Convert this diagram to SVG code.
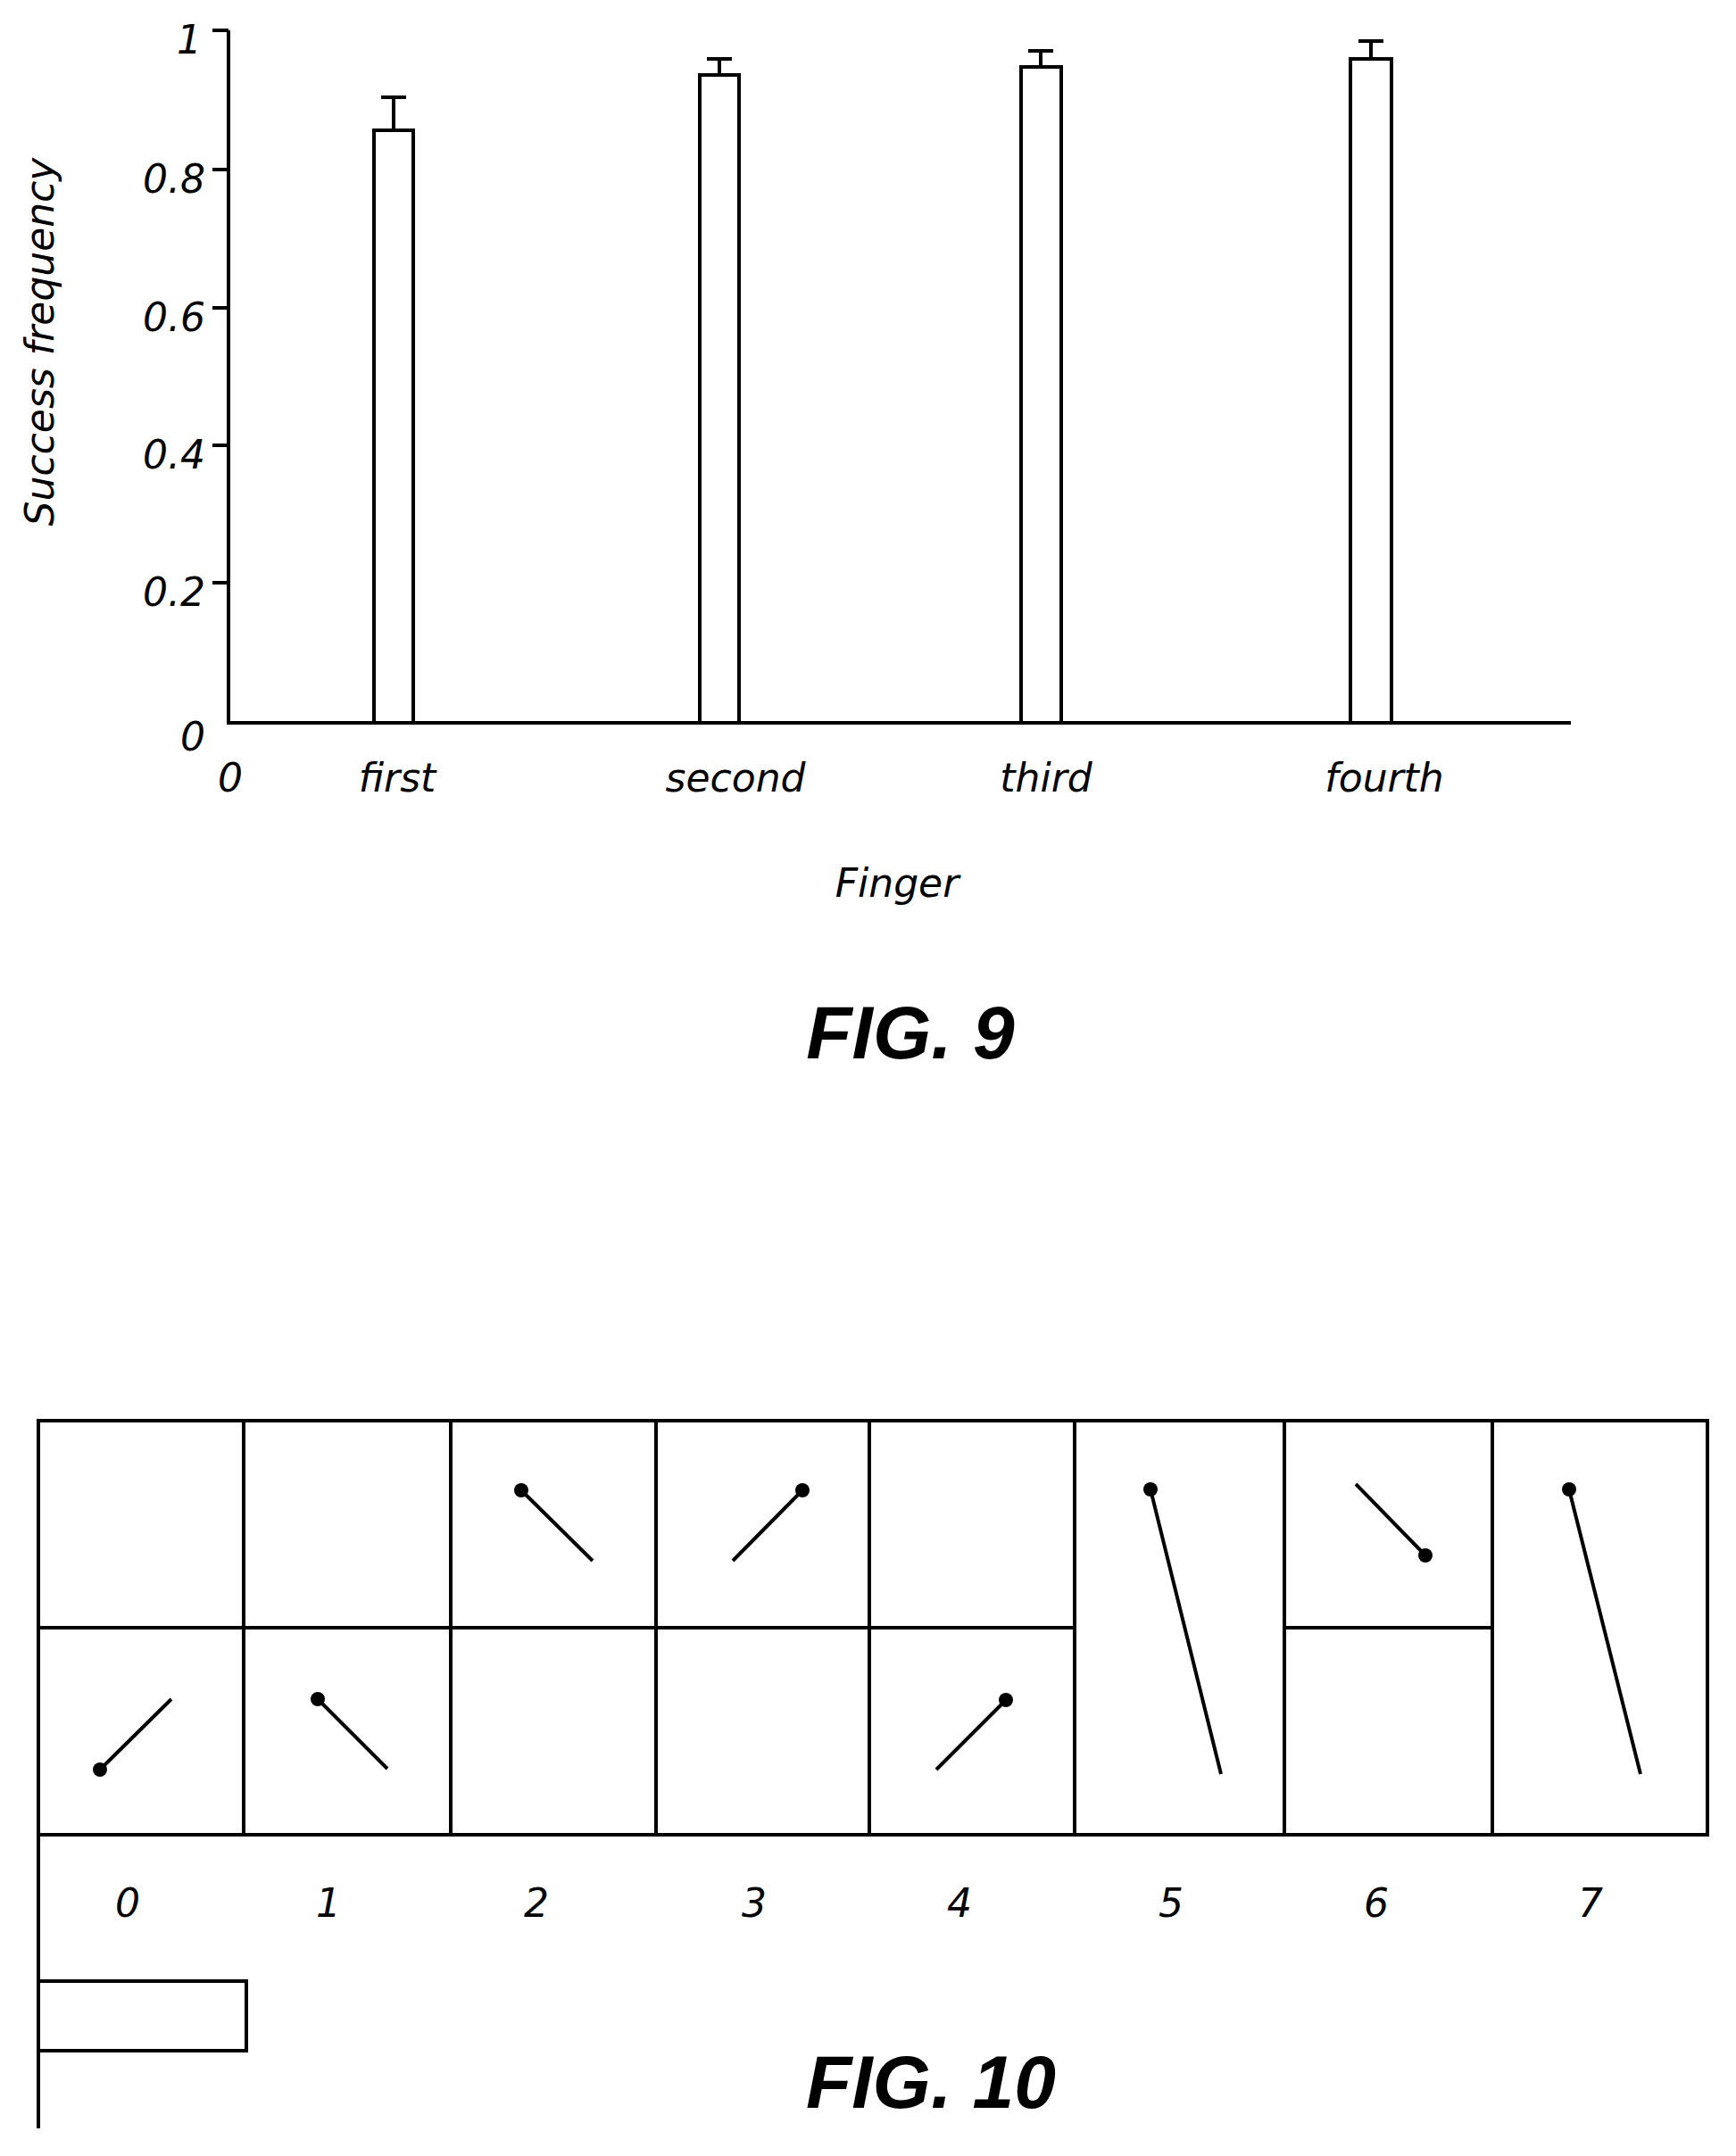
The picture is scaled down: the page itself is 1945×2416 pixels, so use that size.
<svg xmlns="http://www.w3.org/2000/svg" width="1945" height="2416" viewBox="0 0 1945 2416">
<style>
.ln{stroke:#000;stroke-width:4;fill:none}
.bar{stroke:#000;stroke-width:4;fill:#fff}
.t{font-family:"DejaVu Sans",sans-serif;font-style:italic;font-size:44px;fill:#000}
.fig{font-family:"Liberation Sans",Arial,sans-serif;font-style:italic;font-weight:bold;font-size:84px;fill:#000;text-anchor:middle}
.dot{fill:#000}
</style>
<rect width="1945" height="2416" fill="#fff"/>
<g id="fig9-axes">
<path class="ln" d="M256 34V810H1760"/>
<path class="ln" d="M238 34H256M238 190H256M238 345H256M238 499H256M238 653H256"/>
</g>
<g id="fig9-bars">
<path class="ln" d="M441 146V109M427 109H455"/><rect class="bar" x="419" y="146" width="44" height="664"/>
<path class="ln" d="M806 84V66M792 66H820"/><rect class="bar" x="784" y="84" width="44" height="726"/>
<path class="ln" d="M1166 75V57M1152 57H1180"/><rect class="bar" x="1144" y="75" width="45" height="735"/>
<path class="ln" d="M1536 66V46M1522 46H1550"/><rect class="bar" x="1513" y="66" width="46" height="744"/>
</g>
<g id="fig9-labels">
<text class="t" x="226" y="60" text-anchor="end">1</text>
<text class="t" x="230" y="216" text-anchor="end">0.8</text>
<text class="t" x="230" y="371" text-anchor="end">0.6</text>
<text class="t" x="230" y="525" text-anchor="end">0.4</text>
<text class="t" x="230" y="679" text-anchor="end">0.2</text>
<text class="t" x="230" y="841" text-anchor="end">0</text>
<text class="t" x="258" y="887" text-anchor="middle">0</text>
<text class="t" x="445" y="887" text-anchor="middle">first</text>
<text class="t" x="824" y="887" text-anchor="middle">second</text>
<text class="t" x="1172" y="887" text-anchor="middle">third</text>
<text class="t" x="1551" y="887" text-anchor="middle">fourth</text>
<text class="t" x="1005" y="1005" text-anchor="middle">Finger</text>
<text class="t" x="0" y="0" text-anchor="middle" transform="translate(60 383) rotate(-90)">Success frequency</text>
<text class="fig" x="1020" y="1186">FIG. 9</text>
</g>
<g id="fig10-grid">
<rect class="ln" x="43" y="1592" width="1870" height="464"/>
<path class="ln" d="M273 1592V2056M505 1592V2056M735 1592V2056M974 1592V2056M1204 1592V2056M1439 1592V2056M1672 1592V2056"/>
<path class="ln" d="M43 1824H1204M1439 1824H1672"/>
<path class="ln" d="M43 2056V2385"/>
<rect class="ln" x="43" y="2220" width="233" height="78"/>
</g>
<g id="fig10-strokes">
<path class="ln" d="M584 1670L664 1749M899 1670L821 1749M1289 1669L1368 1988M1519 1663L1597 1743M1758 1669L1838 1988M112 1983L192 1904M356 1904L434 1982M1127 1905L1049 1983"/>
<circle class="dot" cx="584" cy="1670" r="8"/><circle class="dot" cx="899" cy="1670" r="8"/>
<circle class="dot" cx="1289" cy="1669" r="8"/><circle class="dot" cx="1597" cy="1743" r="8"/>
<circle class="dot" cx="1758" cy="1669" r="8"/><circle class="dot" cx="112" cy="1983" r="8"/>
<circle class="dot" cx="356" cy="1904" r="8"/><circle class="dot" cx="1127" cy="1905" r="8"/>
</g>
<g id="fig10-labels">
<text class="t" x="143" y="2148" text-anchor="middle">0</text>
<text class="t" x="368" y="2148" text-anchor="middle">1</text>
<text class="t" x="601" y="2148" text-anchor="middle">2</text>
<text class="t" x="845" y="2148" text-anchor="middle">3</text>
<text class="t" x="1075" y="2148" text-anchor="middle">4</text>
<text class="t" x="1312" y="2148" text-anchor="middle">5</text>
<text class="t" x="1542" y="2148" text-anchor="middle">6</text>
<text class="t" x="1782" y="2148" text-anchor="middle">7</text>
<text class="fig" x="1043" y="2362">FIG. 10</text>
</g>
</svg>
